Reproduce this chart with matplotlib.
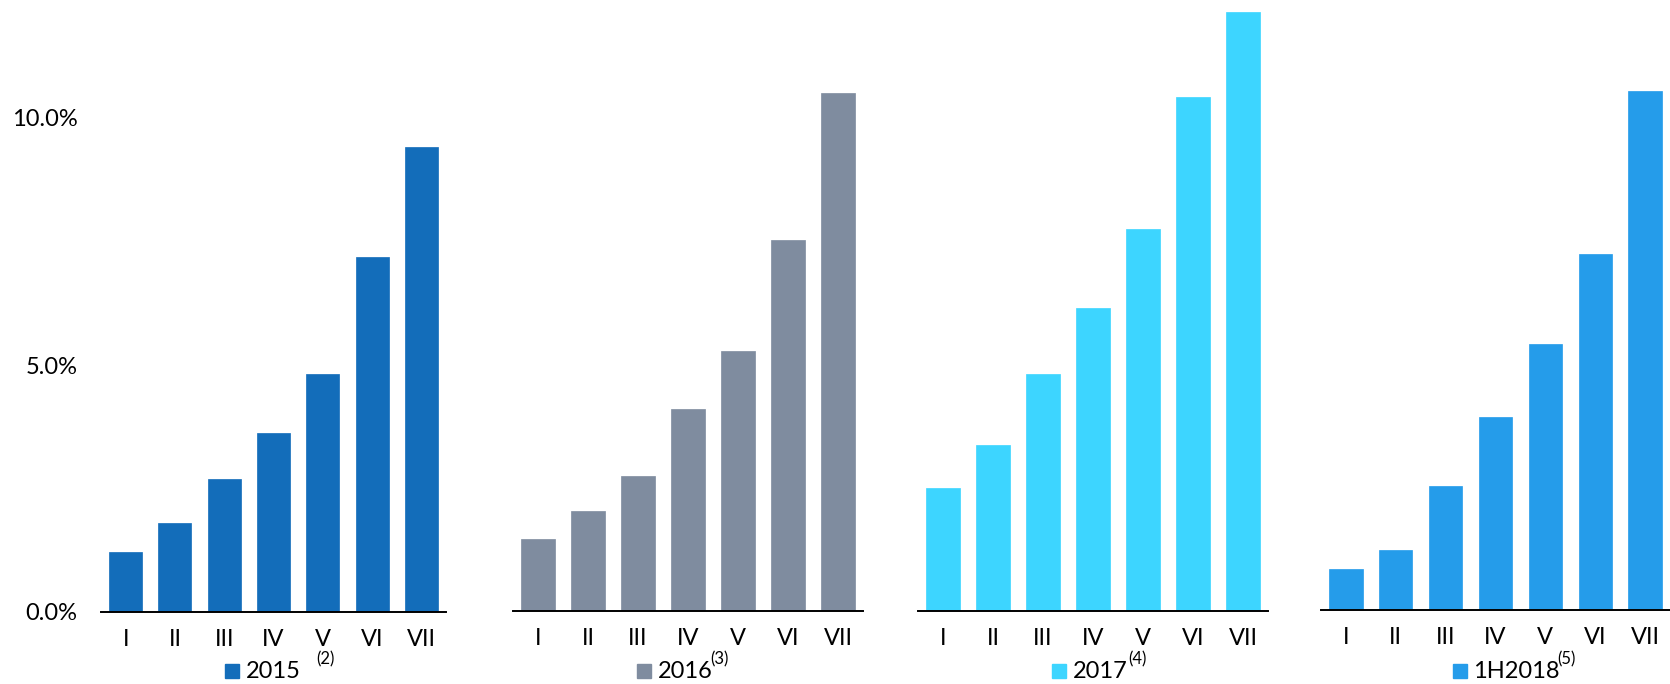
import matplotlib
matplotlib.use("Agg")
import matplotlib.pyplot as plt
from matplotlib.patches import Rectangle
from matplotlib.ticker import FuncFormatter

plt.rcParams['font.family'] = ['Lato', 'DejaVu Sans']

W, H = 1670, 684

categories = ['I', 'II', 'III', 'IV', 'V', 'VI', 'VII']
years = ['2015', '2016', '2017', '1H2018']
notes = ['(2)', '(3)', '(4)', '(5)']
colors = ['#136dba', '#7f8c9f', '#3dd5ff', '#259cea']

rate_2015 = [1.21, 1.81, 2.70, 3.63, 4.82, 7.19, 9.42]
rate_2016 = [1.46, 2.02, 2.73, 4.09, 5.26, 7.52, 10.48]
rate_2017 = [2.48, 3.36, 4.79, 6.13, 7.73, 10.41, 12.13]
rate_1h2018 = [0.82, 1.21, 2.52, 3.90, 5.39, 7.20, 10.50]
series = [rate_2015, rate_2016, rate_2017, rate_1h2018]

# panel boxes in pixels: left, right, baseline
panels = [(101, 446, 612), (513, 863, 611), (918, 1268, 611), (1321, 1670, 610)]
px_per_pct = 49.4
ytop = 12.3

# legend layout in pixels: square left, year text left, footnote left
legend_pos = [(225, 246, 316), (637, 658, 710), (1052, 1073, 1128), (1453, 1473, 1557)]

fig = plt.figure(figsize=(W / 100, H / 100), dpi=100)

for i, (vals, (x0, x1, base)) in enumerate(zip(series, panels)):
    ax = fig.add_axes([x0 / W, (H - base) / H, (x1 - x0) / W, ytop * px_per_pct / H])
    ax.bar(range(len(categories)), vals, width=0.67, color=colors[i],
           edgecolor=colors[i], linewidth=0.5)
    ax.set_xlim(-0.5, 6.5)
    ax.set_ylim(0, ytop)
    for s in ['top', 'right', 'left']:
        ax.spines[s].set_visible(False)
    ax.spines['bottom'].set_linewidth(1.4)
    ax.spines['bottom'].set_color('black')
    ax.set_xticks(range(len(categories)))
    ax.set_xticklabels(categories, fontsize=17)
    ax.tick_params(axis='x', length=0, pad=12)
    if i == 0:
        ax.set_yticks([0, 5, 10])
        ax.yaxis.set_major_formatter(FuncFormatter(lambda v, p: f'{v:.1f}%'))
        ax.tick_params(axis='y', length=0, pad=17, labelsize=17)
    else:
        ax.set_yticks([])

    # legend entry under each panel
    sq, tx, nt = legend_pos[i]
    yc = 671
    fig.patches.append(Rectangle((sq / W, (H - yc - 7) / H), 14 / W, 14 / H,
                                 transform=fig.transFigure, color=colors[i]))
    fig.text(tx / W, (H - yc) / H, years[i], fontsize=17, va='center', ha='left')
    fig.text(nt / W, (H - yc + 12) / H, notes[i], fontsize=12, va='center', ha='left')

fig.savefig('out.png', dpi=100)
